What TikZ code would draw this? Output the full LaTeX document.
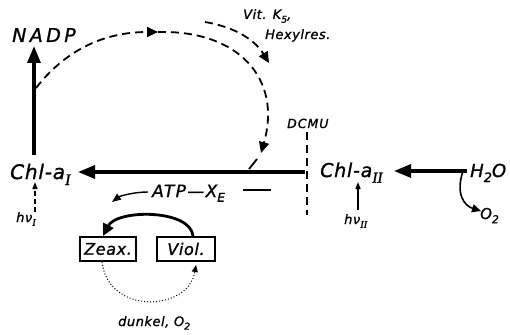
\documentclass[tikz,border=0pt]{standalone}
\usepackage{fontspec}
\setmainfont{DejaVu Sans}[LetterSpace=4, FakeBold=1.2]
\newfontfamily\rnum{Liberation Serif}[FakeBold=1.2]
\newcommand\lsub[1]{\raisebox{-0.28em}{\scalebox{0.72}{#1}}}
\newcommand\rsub[1]{\raisebox{-0.3em}{\scalebox{0.8}{\rnum\itshape #1}}}
\usetikzlibrary{arrows.meta}
\tikzset{
  lbl/.style={inner sep=0pt, anchor=base west},
  fsz/.style={font=\itshape\fontsize{#1}{#1}\selectfont},
  heavy/.style={line width=3.2pt, -{Triangle[length=17pt,width=13pt]}},
  dashthin/.style={line width=1.8pt, dash pattern=on 8pt off 5pt, -{Triangle[length=11pt,width=10pt]}},
  thinarrow/.style={line width=1.4pt, -{Triangle[length=9pt,width=7pt]}},
  boxnode/.style={draw, line width=1.6pt, inner sep=0pt, minimum height=24pt, fsz=16},
}
\begin{document}
\begin{tikzpicture}[x=1pt,y=-1pt]
\useasboundingbox (0,0) rectangle (510,334);
% labels
\node[lbl, font=\itshape\fontsize{19}{19}\selectfont\addfontfeature{LetterSpace=18}] (nadp) at (12,42) {NADP};
\node[lbl, fsz=20] (chl1) at (10,179) {Chl-a\rsub{I}};
\node[lbl, fsz=19] (chl2) at (320,177) {Chl-a\rsub{II}};
\node[lbl, fsz=18] (h2o) at (470,177) {H\lsub{2}O};
\node[lbl, fsz=15] (o2) at (480,219) {O\lsub{2}};
\node[lbl, font=\itshape\fontsize{17}{17}\selectfont\addfontfeature{LetterSpace=8}] (atp) at (152,197) {ATP—X\lsub{E}};
\node[lbl, fsz=13] (hv1) at (16,222) {hν\rsub{I}};
\node[lbl, fsz=13] (hv2) at (344,224) {hν\rsub{II}};
\node[lbl, font=\itshape\fontsize{12.5}{12.5}\selectfont\addfontfeature{LetterSpace=8}] (dcmu) at (287,128) {DCMU};
\node[lbl, fsz=13] (vit) at (243,19) {Vit. K\lsub{5},};
\node[lbl, fsz=13] (hex) at (265,39) {Hexylres.};
\node[lbl, fsz=13] (dunkel) at (118,326) {dunkel, O\lsub{2}};
\node[boxnode, minimum width=56pt] (zeax) at (108,249) {Zeax.};
\node[boxnode, minimum width=58pt] (viol) at (186,249) {Viol.};
% coordinates
\coordinate (nadpS) at (34,155);
\coordinate (nadpE) at (34,46);
\coordinate (mainS) at (305,172);
\coordinate (mainE) at (78,172);
\coordinate (h2oS) at (467,171);
\coordinate (h2oE) at (394,171);
\coordinate (o2S) at (463,171);
\coordinate (o2E) at (481,211);
\coordinate (cycA) at (36,88);
\coordinate (cycB) at (158,32);
\coordinate (cycC) at (261,153);
\coordinate (cycD) at (257,159);
\coordinate (cycF) at (249,169);
\coordinate (vitS) at (205,22);
\coordinate (vitE) at (269,63);
\coordinate (dcmuT) at (307,132);
\coordinate (dcmuB) at (307,215);
\coordinate (atpL) at (148,192);
\coordinate (atpTip) at (112,202);
\coordinate (atpR1) at (243,190);
\coordinate (atpR2) at (271,190);
\coordinate (hv1S) at (35,212);
\coordinate (hv1E) at (35,182);
\coordinate (hv2S) at (358,210);
\coordinate (hv2E) at (358,182);
% heavy arrows
\draw[heavy] (nadpS) -- (nadpE);
\draw[heavy] (mainS) -- (mainE);
\draw[heavy] (h2oS) -- (h2oE);
\draw[line width=1.6pt, -{Triangle[length=9pt,width=8pt]}] (o2S) .. controls (455,195) and (465,206) .. (o2E);
% dashed cycle
\draw[dashthin] (cycA) .. controls (72,42) and (115,32) .. (cycB);
\draw[dashthin] (cycB) .. controls (240,30) and (282,80) .. (cycC);
\draw[line width=1.8pt] (cycD) -- (cycF);
\draw[dashthin] (vitS) .. controls (235,27) and (255,40) .. (vitE);
% DCMU line
\draw[line width=1.6pt, dash pattern=on 8pt off 5pt] (dcmuT) -- (dcmuB);
% ATP
\draw[thinarrow] (atpL) .. controls (134,192) and (120,196) .. (atpTip);
\draw[line width=1.5pt] (atpR1) -- (atpR2);
\draw[line width=2.8pt, -{Triangle[length=12pt,width=11pt]}] (viol.north) ++(7,0) .. controls (191,209) and (117,209) .. (103,236);
\draw[line width=1pt, dotted, -{Triangle[length=7pt,width=6pt]}] (zeax.south) ++(-6,0) .. controls (108,315) and (188,312) .. (196,265);
% light
\draw[line width=1.3pt, dash pattern=on 5pt off 3pt, -{Triangle[length=7pt,width=5pt]}] (hv1S) -- (hv1E);
\draw[line width=1.3pt, -{Triangle[length=7pt,width=5pt]}] (hv2S) -- (hv2E);
\end{tikzpicture}
\end{document}
